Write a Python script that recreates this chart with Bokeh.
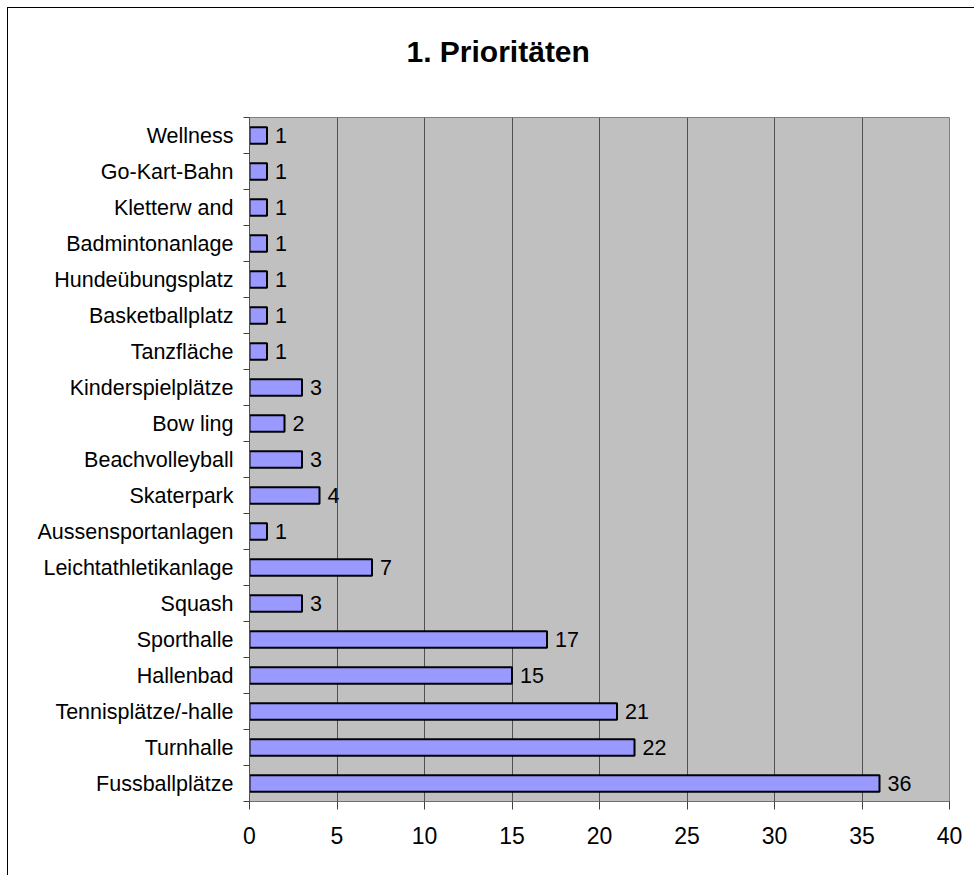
from bokeh.plotting import figure
from bokeh.models import ColumnDataSource, FixedTicker, Title
from bokeh.core.properties import value
from bokeh.embed import file_html
from bokeh.resources import INLINE

# bottom to top
categories = ["Fussballplätze", "Turnhalle", "Tennisplätze/-halle", "Hallenbad",
              "Sporthalle", "Squash", "Leichtathletikanlage", "Aussensportanlagen",
              "Skaterpark", "Beachvolleyball", "Bow ling", "Kinderspielplätze",
              "Tanzfläche", "Basketballplatz", "Hundeübungsplatz", "Badmintonanlage",
              "Kletterw and", "Go-Kart-Bahn", "Wellness"]
values = [36, 22, 21, 15, 17, 3, 7, 1, 4, 3, 2, 3, 1, 1, 1, 1, 1, 1, 1]
x_ticks = [0, 5, 10, 15, 20, 25, 30, 35, 40]
title_text = "1. Prioritäten"

FONT = "Liberation Sans"
n = len(categories)
pos = list(range(n))

src = ColumnDataSource(dict(y=pos, v=values, lbl=[str(v) for v in values]))

p = figure(width=967, height=868, x_range=(0, 40), y_range=(-0.5, n - 0.5),
           output_backend="svg", toolbar_location=None,
           min_border_left=241, min_border_right=26, min_border_top=109,
           min_border_bottom=75)
p.styles = {"margin-left": "7px", "margin-top": "7px",
            "border-left": "1px solid black", "border-top": "1px solid black"}

# spacer panel between frame and title, so the title sits higher
p.add_layout(Title(text=" ", text_font_size="1px", standoff=47), "above")
p.title = Title(text=title_text, align="left", offset=157, standoff=0,
                text_font=FONT, text_font_size="30px", text_font_style="bold",
                text_color="black")

p.background_fill_color = "#C0C0C0"
p.border_fill_color = "white"
p.outline_line_color = "#808080"
p.outline_line_width = 1

p.hbar(y="y", right="v", left=0, height=0.46, source=src,
       fill_color="#9999FF", line_color="black", line_width=2)

p.text(x="v", y="y", text="lbl", source=src, x_offset=8, text_baseline="middle",
       text_align="left", text_font=value(FONT), text_font_size="21.5px",
       text_color="black")

# x axis
p.xaxis.ticker = FixedTicker(ticks=x_ticks)
p.xaxis.axis_line_color = "#707070"
p.xaxis.major_tick_line_color = "#404040"
p.xaxis.major_tick_out = 8
p.xaxis.major_tick_in = 0
p.xaxis.minor_tick_line_color = None
p.xaxis.major_label_standoff = 17
p.xaxis.major_label_text_font = FONT
p.xaxis.major_label_text_font_size = "23px"
p.xaxis.major_label_text_color = "black"

# y axis
p.yaxis.ticker = FixedTicker(ticks=pos, minor_ticks=[i - 0.5 for i in range(n + 1)])
p.yaxis.major_label_overrides = {i: c for i, c in enumerate(categories)}
p.yaxis.axis_line_color = "#505050"
p.yaxis.major_tick_line_color = None
p.yaxis.major_tick_out = 0
p.yaxis.major_tick_in = 0
p.yaxis.minor_tick_line_color = "#404040"
p.yaxis.minor_tick_out = 6
p.yaxis.minor_tick_in = 0
p.yaxis.major_label_standoff = 10
p.yaxis.major_label_text_font = FONT
p.yaxis.major_label_text_font_size = "21.5px"
p.yaxis.major_label_text_color = "black"

p.xgrid.grid_line_color = "#505050"
p.xgrid.grid_line_width = 1
p.ygrid.grid_line_color = None

open("out.html", "w").write(file_html(p, INLINE))
